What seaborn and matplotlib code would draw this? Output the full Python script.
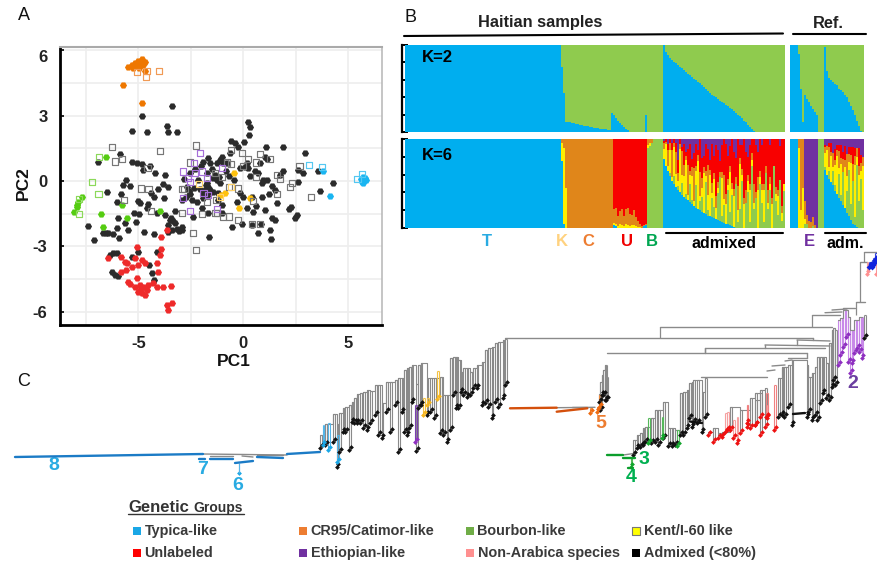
import numpy as np
import pandas as pd
import seaborn as sns
import matplotlib.pyplot as plt

W, H = 877, 563

# ---- panel A, PCA scores
black_pc1 = [-3.41,-4.84,-5.29,-4.6,-3.65,-3.57,-3.17,.24,.32,.27,.05,-.6,-.4,-.24,1.08,1.87,2.94,-5.87,-6.9,-5.29,-5.08,-4.81,-4.44,-4.76,-4.21,-3.73,
             -1.67,-1.9,-1.59,-1.03,-1.11,-.95,-.63,.16,.08,.79,1.03,1.11,1.9,1.75,2.59,2.83,3.57,2.62,4.29,3.65,.71,.32,.95,1.11,.87,.4,.9,0,1.51,1.03,
             2.25,2.19,2.54,2.46,1.35,1.51,1.27,1.32,.71,.4,-.08,-.52,-1.63,-6.48,-7.41,-7.1,-6.67,-6.54,-6.43,-6.19,-5.92,-6.03,-5.95,-5.63,-5.83,-6.03,
             -5.4,-5,-4.92,-5.19,-4.95,-5.13,-4.71,-4.25,-4.24,-3.78,-3.81,-3.57,-4.13,-3.25,-3.49,-3.25,-2.94,-2.94,-3.41,-3.57,
             -2.7,-2.46,-2.22,-1.9,-1.75,-1.67,-1.59,-1.83,-1.43,-1.19,-1.11,-2.38,-2.9,-2.54,-1.75,-1.27,-1.98,-1.67,-.79,-1.35,-1.03,
             -6.19,-6.03,-6.35,-6.27,-6.11,-5.95,-5.32,-5,-4.48,-4.37,-4.25,-4.13,
             -1.8,-1.7,-1.6,-1.9,-1.75,-2.6,-2.55,-2.75,-2.35,-2.15,-1.45,-1.25,-.85,-.7,-.45,-.15,-1.2,-1,-2,-2.3,-3.05,-3.35,-3.15,-3.6,-3.75,-3.45,
             -4.55,-4.05,-5.6,-5.75,-5.5,-4.6,-4.4,.55,.2,-.15,1.2,1.6,.6,1.35,.45,.85,-2.85,-2.05,-1.5,-1.15,-.3,.15]
black_pc2 = [3.44,2.99,2.29,2.26,2.52,2.23,2.23,2.69,2.49,2.11,1.77,1.85,1.73,1.57,1.57,1.57,1.27,1.22,.89,.85,.84,.76,.69,.5,.38,.27,
             1.04,.89,.81,1.11,.96,.81,1.27,.81,.66,.81,1.11,.99,.47,.27,.5,.35,.46,-.03,-.11,-.44,.35,.23,.05,.05,-.11,-.72,-.72,-.72,-.41,-1.33,
             -1.18,-1.3,-1.56,-1.71,-1.71,-1.79,-2.24,-2.66,-2.37,-2.02,-1.97,-2.09,-2.55,-.52,-2.06,-2.7,-2.37,-2.4,-2.4,-2.43,-2.6,-2.14,-1.71,-1.94,-.6,-.98,
             -.21,-.92,-1.02,-1.48,-1.51,-1.86,-2.32,-2.43,-.72,-.76,-.15,-.26,-1.48,-1.36,-1.79,-1.91,-2.09,-2.24,-2.24,-2.32,
             -.26,-.87,-.95,-.79,-.11,-.26,-.41,-.41,-.49,-.56,-.11,-1.63,-.87,.35,.35,.81,-1.25,-1.48,.81,.27,-1.48,
             -3.31,-3.28,-3.39,-4.15,-4.31,-4.35,-3.5,-3.27,-3.85,-4.23,-4.53,-3.27,
             -.2,-.35,-.5,-.6,-.7,-.45,-.6,-.75,-.3,.05,.15,.05,.45,.25,.05,.6,-.85,-1.1,.7,.55,-2.3,-1.85,-2.2,-2.0,-1.55,-1.7,
             -1.05,-.35,.05,-.2,-2.25,-1.25,-.55,.45,.6,-.55,-.6,-1.0,-1.15,-.25,-1.4,-1.95,.1,-.35,.55,.2,-.95,-1.25]
red_pc1 = [-5.08,-3.92,-3.97,-6.43,-5.81,-5.63,-5.56,-5.16,-4.68,-4.84,-5,-5.81,-5.08,-5.48,-5.4,-5.16,-4.92,-4.76,-4.52,-4.29,-4.13,-3.81,-3.44,-5,-4.84,-4.68,-4.92,-4.6,-3.65,-3.38,-3.57,-3.92,-3.65,-4.05,-4.13,-5.32,-5.6]
red_pc2 = [-3.01,-3.11,-3.39,-3.54,-3.47,-3.69,-3.77,-3.54,-3.77,-3.62,-3.85,-4.15,-4.46,-4.61,-4.73,-4.84,-4.76,-4.84,-4.76,-4.69,-4.84,-4.84,-4.81,-5.07,-5.15,-5.22,-4.99,-4.99,-5.68,-5.6,-5.91,-2.58,-2.24,-4.15,-3.77,-3.92,-4.1]
orange_pc1 = [-5.48,-5.32,-5.16,-5,-4.84,-5.08,-4.92,-4.68,-4.76,-4.68,-5.71,-4.84,-5.24,-4.98]
orange_pc2 = [5.24,5.31,5.39,5.5,5.57,5.31,5.36,5.47,5.31,5.05,4.4,3.56,5.2,5.2]
green_pc1 = [-6.54,-7.7,-7.86,-7.94,-7.9,-8.06,-6.79,-5.79,-5.52,-6.67,-3.97]
green_pc2 = [1.11,-.75,-.95,-1.1,-1.21,-1.4,-1.51,-1.1,-1.71,-2.09,-1.36]
yellow_pc1 = [-.44,-.87,.32,-.19,-1.08]
yellow_pc2 = [.35,-.56,-.76,-1.22,-.64]
blue_pc1 = [5.59,5.71,5.84,5.71,5.63,5.79,5.68,5.75,3.81,4.13]
blue_pc2 = [.09,.2,.05,-.11,-.03,.15,.02,.06,.46,-.67]

open_gray_pc1 = [-6.24,-6.11,-5.79,-5.67,-4.87,-4.52,-4.56,-4.41,-3.97,-2.25,-2.54,-2.94,-2.94,-1.98,-2.38,-2.25,-1.75,-1.3,-1.35,-1.03,-.79,-.59,-.59,-.03,.21,-.05,.6,.79,1.27,.6,1.59,1.75,2.3,2.22,2.67,3.22,1.59,.44,-.24,-.68,-1.27,-.98,-.68,-.24,.4,.79,-2.8,-1.33]
open_gray_pc2 = [1.54,.89,1.01,-.87,-.34,-.38,.58,-1.36,1.37,1.63,.85,-.38,-1.48,-1.51,-2.4,-3.16,-.98,-.87,.35,.17,.85,1.42,.78,.7,1.01,1.3,.85,1.24,.99,.2,.27,.08,-.08,-.26,.7,-.72,-.6,-.9,-.34,-.26,-1.48,-1.66,-1.63,-1.79,-1.97,-1.97,-.38,-1.45]
open_purple_pc1 = [-2.86,-2.35,-2.06,-2.62,-2.54,-2.3,-1.98,-1.75,-1.9,-1.67,-2.86,-2.54,-1.24,-1]
open_purple_pc2 = [.43,.81,1.3,.12,-.03,.35,.43,.12,-.56,-.64,-.79,-1.36,-1.3,.58]
open_yellow_pc1 = [-.6,-1.11,-2.11]
open_yellow_pc2 = [-.26,-.72,-.15]
open_green_pc1 = [-6.87,-7.22,-6.9,-7.81,-7.81]
open_green_pc2 = [1.11,-.06,-.58,-.84,-1.51]
open_orange_pc1 = [-5.08,-4.6,-4.63,-4.02]
open_orange_pc2 = [5.01,5.05,4.78,5.04]
open_blue_pc1 = [5.63,5.43,3.76,3.13]
open_blue_pc2 = [.32,.09,.63,.72]

# ---- panel B, ancestry shares per sample
k2_haiti = [1.0]*78 + [.75,.45,.12,.12,.11,.10,.10,.09,.09,.08,.08,.07,.07,.07,.06,.06,.05,.05,.05,.04,.04,.03,.03,.02,.02,
            .22,.2,.16,.13,.1,.08,.06,.04,.02,0] + [0]*7 + [.2] + [0]*8 + \
           [1.0,.92,.88,.85,.83,.81,.79,.77,.75,.73,.71,.69,.67,.65,.63,.61,.6,.58,.56,.54,.52,.5,.47,.45,.43,.41,.4,.38,.36,.35,.33,.31,.3,.28,.26,.24,.22,.2,.18,.16,.13,.11,.08,.06,.03,.01] + [0]*15
k2_ref = [1,1,1,1,.9,.5,.12,.43,.38,.34,.3,.27,.23,.2,0,0,0,.98,.7,.62,.6,.57,.55,.54,.5,.48,.46,.42,.4,.35,.3,.25,.2,.13,.07,.01,0]

n_blue, n_k, n_c, n_u, n_b = 78, 3, 23, 17, 8
u_blue = [.03,.02,0,0,0,0,0,0,0,0,0,0,0,0,0,.02,.03]
u_yellow = [.03,.03,.02,.04,.03,.02,.04,.03,.02,.03,.03,.02,.01,.01,0,0,0]
u_orange = [.15,.17,.12,.15,.18,.12,.17,.2,.14,.12,.17,.1,.07,.04,.02,.01,.01]
u_red = [.79,.78,.86,.81,.79,.86,.79,.77,.84,.85,.8,.88,.92,.95,.98,.97,.96]

mix_blue = [.78,.7,.64,.58,.53,.49,.46,.43,.4,.37,.35,.33,.31,.29,.27,.25,.23,.21,.2,.18,.17,.16,.14,.13,.12,.11,.1,.09,.08,.07,.06,.05,.04,.03,.02,.01] + [0]*25
mix_green = [0,0,0,1,0,2,0,1,0,3,0,1,0,4,1,0,5,0,2,3,0,6,1,0,4,2,0,5,8,1,3,0,6,2,5,0,7,1,3,8,0,4,6,1,9,3,5,0,7,4,1,8,3,6,0,9,4,2,7,1,5]
mix_yellow = [5,8,2,6,1,7,3,1,9,2,4,8,1,2,6,1,3,9,1,2,7,1,3,8,1,5,2,1,0,7,1,4,1,6,1,5,0,2,7,1,4,0,2,5,1,1,0,6,1,2,5,0,1,1,4,0,1,3,0,1,1]
mix_orange = [3,1,6,2,7,1,5,2,1,6,2,1,6,1,2,7,1,1,5,2,1,1,6,1,2,1,2,1,1,1,4,2,1,1,1,1,1,4,1,1,1,2,1,1,1,3,1,2,1,1,1,1,2,1,1,0,1,1,0,1,0]
mix_red = [1,1,2,1,2,1,2,3,1,1,4,1,3,6,2,3,5,1,7,4,2,5,3,2,8,3,9,6,2,5,6,10,4,3,7,6,3,8,2,4,10,6,3,6,2,7,8,4,5,6,7,4,8,5,10,4,7,8,5,9,6]
mix_purple = [1,0,2,0,1,0,1,5,0,2,1,3,2,1,5,3,1,2,0,4,3,1,2,4,1,3,1,2,4,1,0,1,3,1,0,2,3,0,1,1,0,2,3,1,0,0,1,2,0,1,0,0,0,1,0,0,0,0,1,0,0]

ref_blue = [1,1,1,1,0,0,0,0,0,0,0,0,0,0,0,0,0,.65,.6,.55,.52,.48,.42,.38,.34,.3,.26,.22,.17,.13,.09,.05,.03,.01,0,0,0]
ref_green = [0,0,0,0,0,0,0,.05,.05,0,0,.02,0,0,1,1,1,1,0,2,0,3,1,0,4,1,5,0,3,6,2,5,1,7,3,6,2]
ref_yellow = [0,0,0,0,.9,.2,.45,.05,0,0,0,0,0,0,0,0,0,5,7,1,6,1,4,7,1,5,0,6,2,1,5,0,6,1,3,1,5]
ref_orange = [0,0,0,0,.1,.8,.55,.2,.1,.08,.07,.1,.03,0,0,0,0,2,1,5,1,3,1,1,3,1,2,1,3,1,1,2,1,1,1,1,1]
ref_red = [0,0,0,0,0,0,0,0,0,0,0,0,0,0,0,0,0,1,0,1,2,0,2,1,1,2,1,2,0,1,1,2,1,0,2,1,0]
ref_purple = [0,0,0,0,0,0,0,.7,.85,.92,.93,.88,.97,1,0,0,0,2,2,1,1,3,2,1,1,1,2,1,2,1,1,1,1,1,1,2,2]

left_x = [30,46,70,80,88,98,105,118,125,132,140,150,160,170,180,195,205,215,228,240,255,265,275,282,290,298,305,318,325,332,350,360,372,390,400,410,420,430,437,445,452,460,470,480,490,500,515,525,535,545,555,565,578,585]
left_top = [300,268,238,268,235,220,215,210,200,190,178,175,170,165,168,150,150,205,142,140,135,130,128,105,100,95,90,148,90,85,130,130,130,125,180,180,70,65,65,75,110,100,100,110,100,90,80,45,40,35,25,20,15,12]
left_tip = [340,330,320,395,350,290,290,345,260,265,265,265,280,285,265,240,300,310,230,290,210,350,230,290,300,280,200,348,220,210,240,230,250,295,300,320,285,180,220,220,170,180,185,180,160,160,210,205,215,250,200,215,190,150]
five_x = [298,300,305,310,315,318]
five_top = [222,185,165,150,135,170]
five_tip = [245,270,225,225,240,240]
green_x = [130,140,150,158,165,183,195,205,220,235,245,255,270,280,290,297,305,310,322,335,345]
green_top = [240,225,220,205,200,175,150,150,125,205,205,210,100,95,90,70,65,60,60,95,55]
green_tip = [285,265,262,255,245,250,245,255,235,258,258,255,225,225,205,175,200,185,190,215,170]
red_x = [355,370,385,395,420,450,480,495,510,525]
red_top = [215,205,220,215,140,150,115,100,90,85]
red_tip = [225,245,235,230,210,220,205,195,225,200]
pink_x = [405,412,430,440,470,530]
pink_top = [160,155,180,170,135,135]
pink_tip = [215,210,235,250,200,175]
right_x = [115,125,133,145,155,200,205,215,225,232,240,248,258,268,275,280,285]
right_top = [385,350,350,345,330,345,380,370,350,320,320,320,340,280,240,235,240]
right_tip = [500,495,500,470,525,500,485,510,495,510,460,430,445,450,410,390,405]
eth_x = [295,300,310,318,325,330,335,342,352,358,365]
eth_top = [210,205,180,180,200,240,240,210,210,200,200]
eth_tip = [345,315,290,260,335,370,340,310,295,305,325]

# long tree branches, pixel ends
branch_x0 = [505,660,812,825,832,856,860,864,797,765,705,607,807,701,767,772,785,788,556.7,571.7,623.3,843,813,797,765,705,203,210,242,257]
branch_x1 = [813,832,840,842,847,865,867,877,830,830,825,807,807,767,775,785,792,807,595,587,635,855,813,797,765,705,287,233,253,283]
branch_y0 = [338,327,315,312.7,310,302,262,252,340,345,348,353,353,377,371,366,361,358,407.7,406.7,455,308,338,340,345,348,454,456,456,455]
branch_y1 = [338,327,315,312,309,302,262,252,341,346,348,353,358,377,370,365,360,358,407.3,406.7,453.3,308,340,345,348,353,455,456,457,455]
drop_x = [660,812,856,860,864,705]
drop_y0 = [327,315,302,262,252,348]
drop_y1 = [338,327,315,302,262,353]

# thick coloured runs: x0, y0, x1, y1
blue_runs = [(15,457,203,454),(199,459,205,459),(210,459,233,459),(235,463,253,461),(257,457,283,458),(287,454,320,452)]
orange_runs = [(510,408.3,556.7,407.7),(556.7,411.7,587.3,408.3)]
green_runs = [(606.7,455.3,623.3,455.3),(623.3,458.3,635,458.3),(628,467.7,633,467.7)]
black_runs = [(690,421.5,702,423),(793,414,805,413)]

legend_names = ['Typica-like','CR95/Catimor-like','Bourbon-like','Kent/I-60 like','Unlabeled','Ethiopian-like','Non-Arabica species','Admixed (<80%)']
legend_colors = ['#1AA7E6','#ED7D31','#70AD47','#FFFF00','#FF0000','#7030A0','#FF9090','#000000']

sns.set_theme(style='white')
plt.rcParams['font.family'] = ['Liberation Sans', 'DejaVu Sans']
fig = plt.figure(figsize=(W/100, H/100), dpi=100)
fig.patch.set_facecolor('white')


def px_axes(x0, y0, x1, y1):
    return fig.add_axes([x0/W, 1-y1/H, (x1-x0)/W, (y1-y0)/H])


# A. PCA
ax = px_axes(60, 47, 382, 325)
filled = {'#2B2B2B': (black_pc1, black_pc2), '#EE2A2A': (red_pc1, red_pc2), '#EE7700': (orange_pc1, orange_pc2),
          '#55CC11': (green_pc1, green_pc2), '#FFC20E': (yellow_pc1, yellow_pc2), '#19B5F1': (blue_pc1, blue_pc2)}
hollow = {'#777777': (open_gray_pc1, open_gray_pc2), '#A66FD8': (open_purple_pc1, open_purple_pc2),
          '#FFD36B': (open_yellow_pc1, open_yellow_pc2), '#8CD95A': (open_green_pc1, open_green_pc2),
          '#F09A55': (open_orange_pc1, open_orange_pc2), '#55C8F2': (open_blue_pc1, open_blue_pc2)}
for col, (px, py) in filled.items():
    d = pd.DataFrame({'PC1': px, 'PC2': py})
    sns.scatterplot(data=d, x='PC1', y='PC2', marker='H', s=26, color=col, linewidth=0, ax=ax, zorder=3)
for col, (px, py) in hollow.items():
    d = pd.DataFrame({'PC1': px, 'PC2': py})
    sns.scatterplot(data=d, x='PC1', y='PC2', marker='s', s=20, facecolor='none', edgecolor=col, linewidth=.85, ax=ax, zorder=4)
ax.set_xlim(-8.73, 6.6)
ax.set_ylim(-6.6, 6.14)
ax.set_xticks([-5, 0, 5])
ax.set_yticks([-6, -3, 0, 3, 6])
ax.set_yticklabels(['-6', '-3', '0', '3', '6'], fontweight='bold', fontsize=12, color='#222222')
ax.set_xticklabels(['-5', '0', '5'], fontweight='bold', fontsize=12, color='#222222')
ax.get_yticklabels()[-1].set_va('top')
ax.set_xticks([-7.5, -2.5, 2.5], minor=True)
ax.set_yticks([-4.5, -1.5, 1.5, 4.5], minor=True)
ax.grid(True, which='both', color='#EEEEEE', linewidth=1.2)
ax.set_axisbelow(True)
ax.tick_params(axis='y', which='major', direction='in', length=3, width=1.2, color='black', pad=9, left=True)
ax.tick_params(axis='x', which='major', length=0, pad=8)
ax.tick_params(which='minor', length=0)
ax.set_xlabel('')
ax.set_ylabel('')
for side, col, lw in [('left', 'black', 2), ('bottom', 'black', 2), ('top', '#AAAAAA', 1.5), ('right', '#BBBBBB', 1.2)]:
    ax.spines[side].set_visible(True)
    ax.spines[side].set_color(col)
    ax.spines[side].set_linewidth(lw)


# B. ancestry bars
BLUE, GREEN, ORANGE, RED, PURPLE, YELLOW = '#00AEEF', '#8FCB4E', '#E0861A', '#F80000', '#7030A0', '#FFEE00'


def stacked(ax, shares, colors, bracket):
    x = np.arange(len(shares[0]))
    bottom = np.zeros(len(x))
    for vals, col in zip(shares, colors):
        vals = np.asarray(vals, dtype=float)
        ax.bar(x, vals, bottom=bottom, width=1.02, color=col, linewidth=0)
        bottom = bottom + vals
    ax.set_xlim(-.5, len(x)-.5)
    ax.set_ylim(0, 1)
    ax.set_xticks([])
    sns.despine(ax=ax, top=True, right=True, bottom=True, left=not bracket)
    if bracket:
        ax.spines['left'].set_position(('outward', 2))
        ax.spines['left'].set_color('black')
        ax.spines['left'].set_linewidth(1.6)
        ax.set_yticks([0, .2, .4, .6, .8, 1])
        ax.set_yticklabels([])
        ax.tick_params(axis='y', direction='in', length=4, width=1.4, color='black', left=True)
    else:
        ax.set_yticks([])


def pure(value, n):
    return [value]*n


# K=6 columns, admixed samples get the non-blue part split by their weights
mix_w = np.array([mix_green, mix_yellow, mix_orange, mix_red, mix_purple], dtype=float)
mix_s = (1-np.array(mix_blue)) * mix_w / mix_w.sum(axis=0)
h_blue = pure(1.0, n_blue) + [.75, .05, 0] + pure(0, n_c) + u_blue + pure(0, n_b) + mix_blue
h_green = pure(0, n_blue+n_k+n_c+n_u) + [.9, .92, .95, 1, 1, 1, 1, 1] + list(mix_s[0])
h_yellow = pure(0, n_blue) + [.2, .85, .45] + pure(0, n_c) + u_yellow + [.03, .03, 0, 0, 0, 0, 0, 0] + list(mix_s[1])
h_orange = pure(0, n_blue) + [.05, .1, .55] + pure(1, n_c) + u_orange + [.07, .05, .05, 0, 0, 0, 0, 0] + list(mix_s[2])
h_red = pure(0, n_blue+n_k+n_c) + u_red + pure(0, n_b) + list(mix_s[3])
h_purple = pure(0, n_blue+n_k+n_c+n_u+n_b) + list(mix_s[4])

ref_w = np.array([ref_green, ref_yellow, ref_orange, ref_red, ref_purple], dtype=float)
ref_tot = ref_w.sum(axis=0)
ref_s = (1-np.array(ref_blue)) * ref_w / np.where(ref_tot > 0, ref_tot, 1)

order6 = [BLUE, GREEN, YELLOW, ORANGE, RED, PURPLE]
a = px_axes(405, 45, 785, 132)
stacked(a, [k2_haiti, 1-np.array(k2_haiti)], [BLUE, GREEN], True)
a = px_axes(790, 45, 864, 132)
stacked(a, [k2_ref, 1-np.array(k2_ref)], [BLUE, GREEN], False)
a = px_axes(405, 139, 785, 228)
stacked(a, [h_blue, h_green, h_yellow, h_orange, h_red, h_purple], order6, True)
a = px_axes(790, 139, 864, 228)
stacked(a, [ref_blue, *ref_s], order6, False)


# C. tree and all loose text, in pixel coordinates
top = fig.add_axes([0, 0, 1, 1], facecolor='none')
top.set_xlim(0, W)
top.set_ylim(H, 0)
top.axis('off')

STEM = '#8A8A8A'


def clade(x, t, tip, ox, oy, stem=STEM, dot='#111111', spine=True, size=6):
    rx = ox + np.array(x)/3
    rt = oy + np.array(t)/3
    rb = oy + np.array(tip)/3
    # each stem is a narrow bracket holding two tips
    top.vlines(rx, rt, rb, color=stem, linewidth=.8, zorder=2)
    top.vlines(rx+1.7, rt, rb-3, color=stem, linewidth=.8, zorder=2)
    top.hlines(rt, rx, rx+1.7, color=stem, linewidth=.8, zorder=2)
    if spine:
        top.step(rx, rt, where='post', color=STEM, linewidth=.8, zorder=2)
    d = pd.DataFrame({'x': np.r_[rx, rx+1.7], 'y': np.r_[rb, rb-3]})
    sns.scatterplot(data=d, x='x', y='y', marker='D', s=size, color=dot, linewidth=0, ax=top, zorder=3, clip_on=False)


top.vlines(drop_x, drop_y0, drop_y1, color=STEM, linewidth=.9)
for x0, x1, y0, y1 in zip(branch_x0, branch_x1, branch_y0, branch_y1):
    top.plot([x0, x1], [y0, y1], color=STEM, linewidth=1)

clade(left_x, left_top, left_tip, 310, 335)
clade([38, 55, 82], [270, 265, 300], [330, 345, 380], 310, 335, stem='#55B5E8', dot='#1AA7E6', spine=False)
clade([340, 352, 382], [190, 190, 108], [240, 210, 192], 310, 335, stem='#F5C242', dot='#F5B51E', spine=False)
clade([315], [210], [322], 310, 335, stem='#7B3FB0', dot='#8E2FC0', spine=False)
clade(five_x, five_top, five_tip, 500, 320)
clade([298, 270, 290], [225, 265, 260], [260, 280, 275], 500, 320, stem='#F08A3C', dot='#EE6A10', spine=False)
clade(green_x, green_top, green_tip, 590, 360)
clade([175, 215, 262, 122], [175, 170, 210, 295], [250, 235, 258, 322], 590, 360, stem='#55B85A', dot='#12A52C', spine=False)
clade(red_x, red_top, red_tip, 590, 360, dot='#EE1111')
clade(pink_x, pink_top, pink_tip, 590, 360, stem='#F5A0A0', dot='#EE1111', spine=False)
clade([45, 60], [450, 430], [525, 500], 740, 250, dot='#EE1111')
clade([20, 78, 103], [465, 430, 405], [520, 500, 540], 740, 250, stem='#F08080', dot='#EE1111', spine=False)
clade(right_x, right_top, right_tip, 740, 250)
clade(eth_x, eth_top, eth_tip, 740, 250, stem='#C88AE8', dot='#8E2FC0')
clade([372], [195], [265], 740, 250, spine=False)
clade([380, 408], [35, 35], [72, 72], 740, 250, stem='#F5A0A0', dot='#FF9090', spine=False)
clade([388, 395, 400, 405], [35, 30, 25, 10], [52, 52, 45, 30], 740, 250, stem='#3344DD', dot='#1122DD', spine=False, size=9)
top.vlines([239], [463], [473], color='#55B5E8', linewidth=.9)
top.scatter([239], [473], marker='D', s=6, color='#1AA7E6', linewidth=0)

for runs, col in [(blue_runs, '#1B7BC6'), (orange_runs, '#D4500C'), (green_runs, '#0B9E2C'), (black_runs, '#111111')]:
    for x0, y0, x1, y1 in runs:
        top.plot([x0, x1], [y0, y1], color=col, linewidth=1.7, solid_capstyle='round', zorder=4)

# header rules
for x0, y0, x1, y1 in [(404, 36, 783, 33.5), (793, 33.5, 866, 33.5), (666, 232.7, 783, 232.7), (825, 232.5, 866, 232.5)]:
    top.plot([x0, x1], [y0, y1], color='black', linewidth=1.5)

# panel letters and axis labels
for s, x, y in [('A', 24, 16), ('B', 410, 17), ('C', 24, 381)]:
    top.text(x, y, s, fontsize=13, ha='center', va='center', color='#111111')
top.text(234, 362, 'PC1', fontsize=12.5, fontweight='bold', ha='center', va='center', color='#111111')
top.text(23, 183, 'PC2', fontsize=12.5, fontweight='bold', ha='center', va='center', rotation=90, color='#111111')
top.text(540, 23, 'Haitian samples', fontsize=11.8, fontweight='bold', ha='center', va='center', color='#222222')
top.text(828, 23, 'Ref.', fontsize=11.8, fontweight='bold', ha='center', va='center', color='#222222')
top.text(437, 58, 'K=2', fontsize=12, fontweight='bold', ha='center', va='center', color='black')
top.text(437, 155, 'K=6', fontsize=12, fontweight='bold', ha='center', va='center', color='black')
for s, x, col in [('T', 487, '#29ABE2'), ('K', 562, '#FFD27F'), ('C', 588, '#ED7D31'), ('U', 627, '#F00000'), ('B', 652, '#00A651'), ('E', 809, '#7030A0')]:
    top.text(x, 242, s, fontsize=12, fontweight='bold', ha='center', va='center', color=col)
top.text(724, 243, 'admixed', fontsize=11.5, fontweight='bold', ha='center', va='center', color='black')
top.text(845, 243, 'adm.', fontsize=11.5, fontweight='bold', ha='center', va='center', color='black')

# clade numbers
for s, x, y, col in [('8', 54, 465, '#29ABE2'), ('7', 203, 470, '#29ABE2'), ('6', 238, 486, '#29ABE2'), ('5', 601, 423, '#ED7D31'),
                     ('3', 644, 459, '#00B050'), ('4', 631, 478, '#00B050'), ('2', 853, 383, '#6B3FA0')]:
    top.text(x, y, s, fontsize=14, fontweight='bold', ha='center', va='center', color=col)

# legend
top.text(128, 507, 'Genetic', fontsize=12, fontweight='bold', ha='left', va='center', color='#333333')
top.text(193, 508, 'Groups', fontsize=10, fontweight='bold', ha='left', va='center', color='#333333')
top.plot([128, 244], [513.5, 513.5], color='#333333', linewidth=1)
leg_x = [137, 303, 470, 636]
leg_y = [531, 553]
for i, (name, col) in enumerate(zip(legend_names, legend_colors)):
    x = leg_x[i % 4]
    y = leg_y[i // 4]
    top.scatter([x], [y], marker='s', s=28, color=col, linewidth=.8 if name.startswith('Kent') else 0, edgecolor='#777777', zorder=5)
    top.text(x+7.5, y, name, fontsize=10.4, fontweight='bold', ha='left', va='center', color='#3A3A3A')
top.set_xlabel('')
top.set_ylabel('')

plt.savefig('out.png', dpi=100)
plt.close()
